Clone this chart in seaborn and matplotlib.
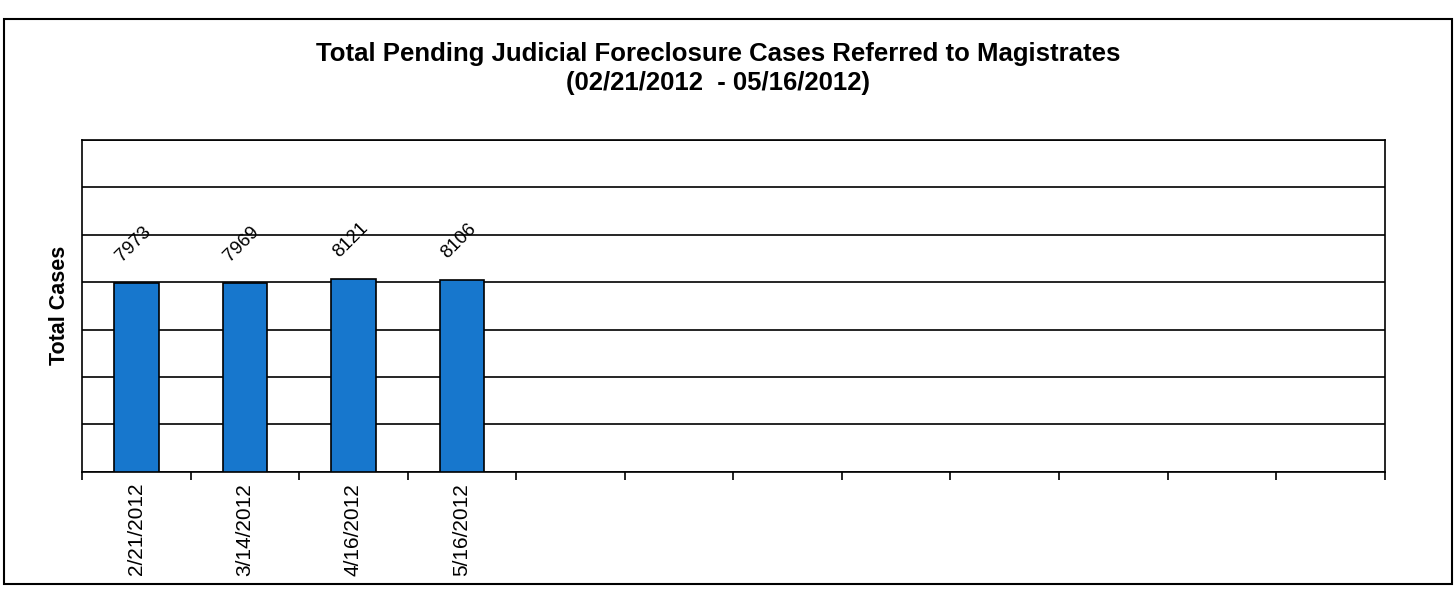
import matplotlib
matplotlib.use("Agg")
import matplotlib.pyplot as plt
from matplotlib.patches import Rectangle
import seaborn as sns
import pandas as pd

dates = ["2/21/2012", "3/14/2012", "4/16/2012", "5/16/2012"]
cases = [7973, 7969, 8121, 8106]
n_slots = 12
y_max = 14000
y_step = 2000

df = pd.DataFrame({"date": dates, "cases": cases})

sns.set_style("white")
plt.rcParams["font.family"] = ["Liberation Sans", "DejaVu Sans"]
plt.rcParams["text.color"] = "black"
plt.rcParams["axes.labelcolor"] = "black"
plt.rcParams["xtick.color"] = "black"

fig = plt.figure(figsize=(14.56, 5.95), dpi=100)
ax = fig.add_axes([0.0563, 0.207, 0.8947, 0.558])

sns.barplot(data=df, x="date", y="cases", color="#1777cd", saturation=1,
            width=0.41, edgecolor="black", linewidth=1.2, ax=ax, zorder=3)

ax.set_xlim(-0.5, n_slots - 0.5)
ax.set_ylim(0, y_max)

# gridlines, no y labels
ax.set_yticks(range(0, y_max + 1, y_step))
ax.set_yticklabels([])
ax.tick_params(axis="y", length=0)
ax.grid(axis="y", color="black", linewidth=1.2, zorder=0)
ax.set_axisbelow(True)

# ticks at slot boundaries, labels at centres
ax.set_xticks([i - 0.5 for i in range(n_slots + 1)])
ax.set_xticklabels([])
ax.tick_params(axis="x", which="major", bottom=True, length=6, width=1.2,
               color="black", direction="out")
ax.set_xticks(range(len(dates)), minor=True)
ax.set_xticklabels(dates, minor=True, rotation=90, fontsize=15)
ax.tick_params(axis="x", which="minor", bottom=True, length=0, pad=8, labelcolor="black")
ax.set_xlabel("")
ax.set_ylabel("Total Cases", fontsize=15.5, fontweight="bold", labelpad=5, color="black")

for s in ax.spines.values():
    s.set_visible(True)
    s.set_color("black")
    s.set_linewidth(1.2)

for i, v in enumerate(cases):
    ax.annotate(str(v), (i, v), xytext=(-2, 28), textcoords="offset points",
                ha="center", va="center", rotation=45, fontsize=13.5, color="black")

fig.text(0.493, 0.91, "Total Pending Judicial Foreclosure Cases Referred to Magistrates",
         ha="center", va="center", fontsize=18.5, fontweight="bold", color="black")
fig.text(0.493, 0.86, "(02/21/2012  - 05/16/2012)",
         ha="center", va="center", fontsize=18.5, fontweight="bold", color="black")

fig.patches.append(Rectangle((0.003, 0.018), 0.994, 0.95, transform=fig.transFigure,
                             fill=False, edgecolor="black", linewidth=1.5))

fig.savefig("out.png", dpi=100)
